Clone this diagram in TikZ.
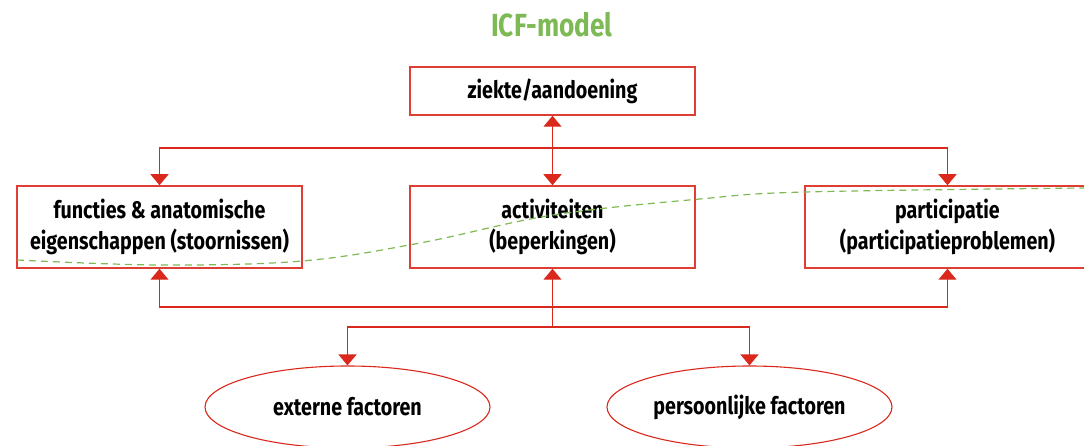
\documentclass[tikz,border=0pt]{standalone}
\usepackage{fontspec}
\setmainfont{Fira Sans}[FakeStretch=0.82]
\usetikzlibrary{arrows.meta,shapes.geometric}
\definecolor{icfred}{RGB}{218,41,28}
\definecolor{icfgreen}{RGB}{125,185,85}

\begin{document}
\begin{tikzpicture}[x=1pt,y=-1pt]
        % Common styles
        \tikzstyle{box}=[draw=icfred!90!white, line width=1.5pt, minimum width=285pt, minimum height=82pt, align=center, font=\bfseries\fontsize{24}{31}\selectfont]
        \tikzstyle{factor}=[ellipse, draw=icfred, line width=1.1pt, minimum width=285pt, minimum height=82pt, font=\bfseries\fontsize{24}{31}\selectfont]
        \tikzstyle{link}=[icfred, line width=1.3pt, -{Triangle[width=18pt,length=11pt]}]
        \useasboundingbox (0,0) rectangle (1084,446);

        % --- Title ---
        \node[icfgreen, font=\bfseries\fontsize{32}{36}\selectfont] (title) at (552,25) {ICF-model};

        % --- Boxes ---
        \node[box, minimum height=48pt] (ziekte) at (552.5,91) {ziekte/aandoening};
        \node[box] (functies) at (159.5,227) {functies \& anatomische\\eigenschappen (stoornissen)};
        \node[box] (activiteiten) at (552.5,227) {activiteiten\\(beperkingen)};
        \node[box] (participatie) at (947.5,227) {participatie\\(participatieproblemen)};

        % --- Factors ---
        \node[factor] (externe) at (347.5,407) {externe factoren};
        \node[factor] (persoonlijk) at (749.5,407) {persoonlijke factoren};

        % Junctions
        \coordinate (top) at (552.5,148);
        \coordinate (bottom) at (552.5,307);
        \coordinate (split) at (552.5,327);

        % Upper connectors
        \draw[link, {Triangle[width=18pt,length=11pt]}-{Triangle[width=18pt,length=11pt]}] (ziekte) -- (activiteiten);
        \draw[link] (top) -| (functies);
        \draw[link] (top) -| (participatie);

        % Lower connectors
        \draw[link] (bottom) -| (functies);
        \draw[link] (bottom) -| (participatie);
        \draw[link] (split) -- (activiteiten);
        \draw[link] (split) -| (externe);
        \draw[link] (split) -| (persoonlijk);

        % Dashed curve
        \draw[icfgreen, line width=1.2pt, dash pattern=on 7pt off 5pt] plot[smooth, tension=0.6] coordinates {(17,260) (160,265) (302,261) (420,243) (553,215) (700,199) (805,192) (1084,188)};

    \end{tikzpicture}
\end{document}
